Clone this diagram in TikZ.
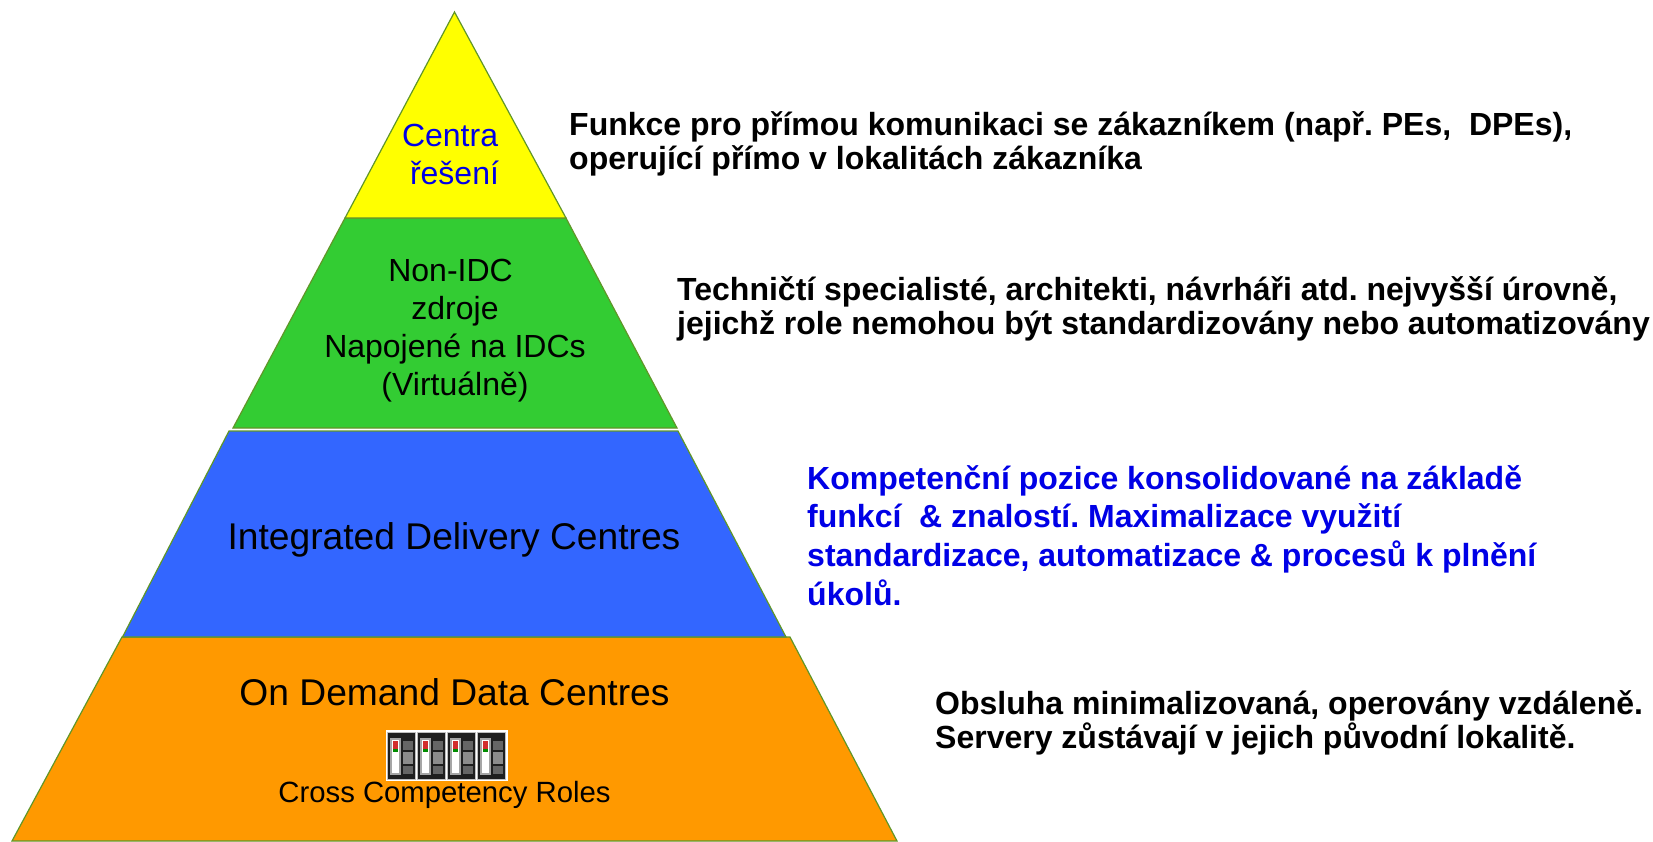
\documentclass[tikz,border=0pt]{standalone}
\usepackage{fontspec}
\setmainfont{Liberation Sans}
\usetikzlibrary{calc}
\frenchspacing
\definecolor{cyellow}{RGB}{255,255,0}
\definecolor{cgreen}{RGB}{51,204,51}
\definecolor{cblue}{RGB}{51,102,255}
\definecolor{corange}{RGB}{255,153,0}
\definecolor{edge}{RGB}{96,150,40}
\definecolor{tblue}{RGB}{0,0,230}
\tikzset{
  x=1pt,y=-1pt,
  tier/.style={draw=edge,line width=1.2pt,line join=miter},
  lab/.style={align=center,inner sep=0pt,font=\frenchspacing\fontsize{32}{37.8}\selectfont},
  biglab/.style={lab,font=\fontsize{37.2}{42}\selectfont},
  desc/.style={align=left,anchor=north west,inner sep=0pt,font=\frenchspacing\fontsize{32}{34}\selectfont\bfseries},
  srv/.style={fill=black!88},
}
\begin{document}
\begin{tikzpicture}
\useasboundingbox (0,0) rectangle (1653,841);
\path[tier,fill=corange] (122,637) -- (790,637) -- (897,841) -- (12,841) -- cycle;
\path[tier,fill=cblue] (122.5,637) -- (229,431) -- (678,431) -- (786,637) -- cycle;
\path[tier,fill=cgreen] (233,428) -- (345,218) -- (566,218) -- (677,428) -- cycle;
\path[tier,fill=cyellow] (345,218) -- (454.5,12) -- (566,218) -- cycle;
\node[lab,text=tblue] (a) at (454.5,154.5) {Centra~~\\ řešení};
\node[lab] (b) at (455,330.5) {Non-IDC~~\\ zdroje\\ Napojené na IDCs\\ (Virtuálně)};
\node[biglab] (c) at (454,540) {Integrated Delivery Centres};
\node[biglab] (d) at (454.5,692.5) {On Demand Data Centres};
\node[lab,font=\fontsize{29.3}{32}\selectfont] (e) at (444.5,795) {Cross Competency Roles};
\fill[white] (386,730) rectangle (508,781);
\foreach \i in {0,1,2,3}{
  \begin{scope}[shift={(387+30*\i,732)}]
    \fill[black!25] (0,0) rectangle (29,48);
    \path[srv] (1,1) rectangle (28,47);
    \fill[black!35] (3,6) rectangle (14,43);
    \fill[white] (5,8) rectangle (12,41);
    \fill[red!65!gray] (6,9) rectangle (11,17);
    \fill[green!55!black] (6,17) rectangle (11,20);
    \fill[black!60] (16,9) rectangle (26,18);
    \fill[black!45] (16,20) rectangle (26,32);
    \fill[black!60] (16,34) rectangle (26,42);
  \end{scope}
}
\node[desc] (f) at (569,111.5) {Funkce pro přímou komunikaci se zákazníkem (např. PEs,\ \ DPEs),\\ operující přímo v lokalitách zákazníka};
\node[desc] (g) at (677,276) {Techničtí specialisté, architekti, návrháři atd. nejvyšší úrovně,\\ jejichž role nemohou být standardizovány nebo automatizovány};
\node[desc,text=tblue,font=\frenchspacing\fontsize{32}{38.7}\selectfont\bfseries] (h) at (807,465) {Kompetenční pozice konsolidované na základě\\ funkcí\ \ \& znalostí. Maximalizace využití\\ standardizace, automatizace \& procesů k plnění\\ úkolů.};
\node[desc] (i) at (935,690) {Obsluha minimalizovaná, operovány vzdáleně.\\ Servery zůstávají v jejich původní lokalitě.};
\end{tikzpicture}
\end{document}
